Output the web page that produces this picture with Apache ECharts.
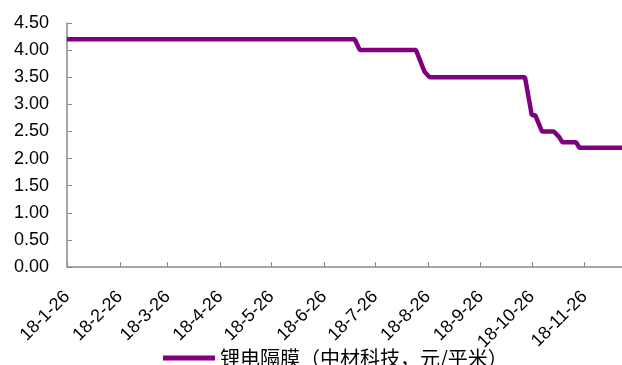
<!DOCTYPE html>
<html>
<head>
<meta charset="utf-8">
<script src="https://cdn.jsdelivr.net/npm/echarts@6/dist/echarts.min.js"></script>
<style>
  html, body { margin: 0; padding: 0; background: #fff; }
  #chart { width: 622px; height: 365px; }
</style>
</head>
<body>
<div id="chart"></div>
<script>
// change points of the price series (step-like)
const dates = ['2018-01-26', '2018-07-14', '2018-07-17', '2018-08-19', '2018-08-24', '2018-08-25',
  '2018-08-27', '2018-10-22', '2018-10-26', '2018-10-28', '2018-11-01', '2018-11-08',
  '2018-11-11', '2018-11-13', '2018-11-21', '2018-11-23', '2018-12-18'];
const prices = [4.2, 4.2, 4.0, 4.0, 3.6, 3.6, 3.5, 3.5, 2.8, 2.8, 2.5, 2.5, 2.4, 2.3, 2.3, 2.2, 2.2];
const tickMonths = [0, 1, 2, 3, 4, 5, 6, 7, 8, 9, 10];  // Jan..Nov, labels on the 26th
const seriesName = '锂电隔膜（中材科技，元/平米）';

const chart = echarts.init(document.getElementById('chart'));
const toTime = s => {
  const p = s.split('-');
  return new Date(+p[0], +p[1] - 1, +p[2]).getTime();
};
const tickValues = tickMonths.map(m => new Date(2018, m, 26).getTime());
const axisColor = '#898989';
const labelFont = 'Liberation Sans, Arial, sans-serif';

chart.setOption({
  animation: false,
  grid: { left: 67, top: 23, right: 0, bottom: 98 },
  xAxis: {
    type: 'value',
    min: toTime('2018-01-26'),
    max: toTime('2018-12-18'),
    splitLine: { show: false },
    axisLine: { lineStyle: { color: axisColor, width: 1.5 } },
    axisTick: { show: true, inside: true, length: 5, customValues: tickValues, lineStyle: { color: axisColor } },
    axisLabel: {
      customValues: tickValues,
      rotate: 45,
      margin: 27,
      fontSize: 18,
      color: '#000',
      fontFamily: labelFont,
      formatter: v => {
        const d = new Date(v);
        return '18-' + (d.getMonth() + 1) + '-' + d.getDate();
      }
    }
  },
  yAxis: {
    type: 'value',
    min: 0,
    max: 4.5,
    interval: 0.5,
    splitLine: { show: false },
    axisLine: { show: true, lineStyle: { color: axisColor, width: 1.5 } },
    axisTick: { show: true, inside: true, length: 5, lineStyle: { color: axisColor } },
    axisLabel: {
      margin: 18,
      fontSize: 18,
      color: '#000',
      fontFamily: labelFont,
      formatter: v => v.toFixed(2)
    }
  },
  legend: {
    left: 163,
    top: 347,
    padding: 0,
    icon: 'rect',
    itemWidth: 52,
    itemHeight: 5,
    itemGap: 5,
    textStyle: { fontSize: 20, lineHeight: 22, color: '#000', fontFamily: 'Noto Sans CJK SC, sans-serif' },
    data: [seriesName]
  },
  series: [{
    name: seriesName,
    type: 'line',
    showSymbol: false,
    symbol: 'none',
    data: dates.map((d, i) => [toTime(d), prices[i]]),
    lineStyle: { color: '#800080', width: 4.5 },
    itemStyle: { color: '#800080' }
  }]
});
</script>
</body>
</html>
